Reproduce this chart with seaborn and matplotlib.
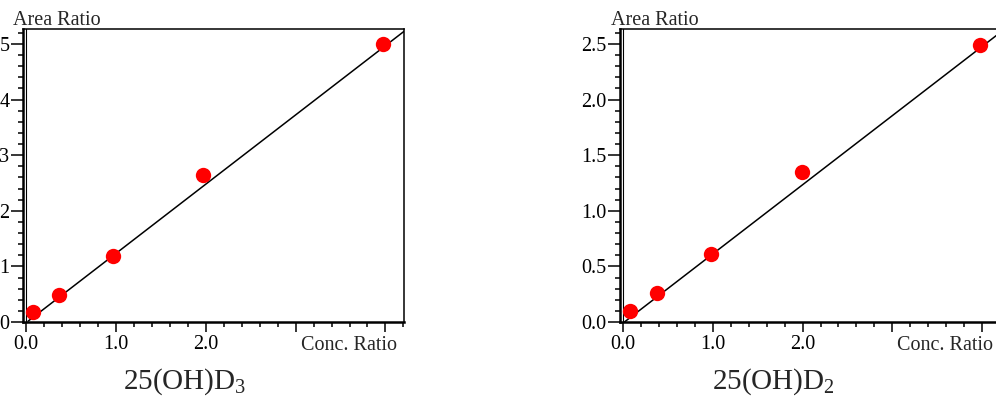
import numpy as np
import pandas as pd
import matplotlib
matplotlib.use("Agg")
import matplotlib.pyplot as plt
from matplotlib.ticker import MultipleLocator, FixedLocator, FixedFormatter
from matplotlib.transforms import blended_transform_factory
import seaborn as sns

# Calibration data: concentration ratio vs. peak area ratio
conc_d3 = [0.07, 0.37, 0.97, 1.97, 3.97]
area_d3 = [0.175, 0.48, 1.19, 2.64, 5.0]
conc_d2 = [0.08, 0.38, 0.98, 1.99, 3.98]
area_d2 = [0.10, 0.257, 0.61, 1.35, 2.49]

# Calibration line coefficients (slope, intercept)
fit_d3 = (1.245, -0.01)
fit_d2 = (0.622, -0.01)
fit_range = [0.02, 4.21]

x_ticks = [0.0, 1.0, 2.0, 3.0, 4.0]
x_tick_labels = ["0.0", "1.0", "2.0", "", ""]
d3_y_ticks = [0, 1, 2, 3, 4, 5]
d3_y_labels = ["0", "1", "2", "3", "4", "5"]
d2_y_ticks = [0.0, 0.5, 1.0, 1.5, 2.0, 2.5]
d2_y_labels = ["0.0", "0.5", "1.0", "1.5", "2.0", "2.5"]

sns.set_style("white")
plt.rcParams["font.family"] = ["Liberation Serif", "DejaVu Serif"]
plt.rcParams["mathtext.fontset"] = "custom"
plt.rcParams["mathtext.rm"] = "Liberation Serif"
plt.rcParams["mathtext.it"] = "Liberation Serif:italic"

fig = plt.figure(figsize=(9.96, 3.97), dpi=100)
W, H = 996, 397
ax1 = fig.add_axes([23.3 / W, 75 / H, 381 / W, 293 / H])
ax2 = fig.add_axes([620 / W, 75 / H, 381 / W, 293 / H])

XLIM = (-0.033, 4.21)


def draw_panel(ax, conc, area, fit, yticks, ylabels, ytop, yminor):
    slope, intercept = fit
    line_df = pd.DataFrame({"x": fit_range,
                            "y": [slope * v + intercept for v in fit_range]})
    sns.lineplot(data=line_df, x="x", y="y", ax=ax, color="black",
                 linewidth=1.1, zorder=2)
    pts = pd.DataFrame({"conc": conc, "area": area})
    sns.scatterplot(data=pts, x="conc", y="area", ax=ax, color="#ff0000",
                    s=122, linewidth=0, zorder=3, clip_on=False)

    ax.set_xlim(*XLIM)
    ax.set_ylim(0, ytop)
    ax.set_xlabel("")
    ax.set_ylabel("")

    # inner axis line at x = 0
    ax.axvline(0, color="black", linewidth=0.8, zorder=1)

    for side in ["left", "bottom"]:
        ax.spines[side].set_linewidth(1.8)
        ax.spines[side].set_color("black")
        ax.spines[side].set_visible(True)
    for side in ["top", "right"]:
        ax.spines[side].set_linewidth(1.1)
        ax.spines[side].set_color("black")
        ax.spines[side].set_visible(True)

    ax.xaxis.set_major_locator(FixedLocator(x_ticks))
    ax.xaxis.set_major_formatter(FixedFormatter(x_tick_labels))
    ax.xaxis.set_minor_locator(MultipleLocator(0.2))
    ax.yaxis.set_major_locator(FixedLocator(yticks))
    ax.yaxis.set_major_formatter(FixedFormatter(ylabels))
    ax.yaxis.set_minor_locator(MultipleLocator(yminor))

    ax.tick_params(axis="both", which="both", direction="out",
                   color="black", width=1.1, labelsize=14.5,
                   labelcolor="black")
    ax.tick_params(axis="x", which="both", bottom=True, top=False)
    ax.tick_params(axis="y", which="both", left=True, right=False)
    ax.tick_params(axis="x", which="major", length=7.5, pad=2)
    ax.tick_params(axis="y", which="major", length=8.5, pad=1.5)
    ax.tick_params(which="minor", length=3.6)

    trans = blended_transform_factory(ax.transData, ax.transAxes)
    ax.text(3.59, -0.0785, "Conc. Ratio", transform=trans, ha="center",
            va="center", fontsize=14.5)


draw_panel(ax1, conc_d3, area_d3, fit_d3, d3_y_ticks, d3_y_labels, 5.27, 0.2)
draw_panel(ax2, conc_d2, area_d2, fit_d2, d2_y_ticks, d2_y_labels, 2.635, 0.1)

fig.text(12.5 / W, (H - 25) / H, "Area Ratio", fontsize=14.5, ha="left",
         va="baseline")
fig.text(610.7 / W, (H - 25) / H, "Area Ratio", fontsize=14.5, ha="left",
         va="baseline")

fig.text(123 / W, (H - 389) / H, r"25(OH)D$_3$", fontsize=21, ha="left",
         va="baseline")
fig.text(711.7 / W, (H - 389) / H, r"25(OH)D$_2$", fontsize=21, ha="left",
         va="baseline")

fig.savefig("out.png", dpi=100, facecolor="white")
